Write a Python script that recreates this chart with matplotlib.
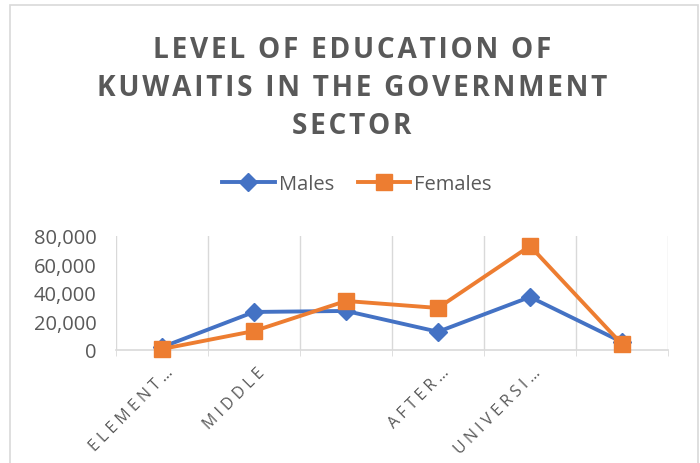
import matplotlib.pyplot as plt
from matplotlib.patches import Rectangle
from matplotlib.transforms import ScaledTranslation
import numpy as np

categories = ['ELEMENT…', 'MIDDLE', '', 'AFTER…', 'UNIVERSI…', '']
males = [2000, 26700, 27400, 12800, 37200, 5600]
females = [700, 13300, 34400, 29500, 73000, 4000]
yticks = [0, 20000, 40000, 60000, 80000]

title_lines = ['LEVEL OF EDUCATION OF', 'KUWAITIS IN THE GOVERNMENT', 'SECTOR']

GRAY = '#595959'
BLUE = '#4472C4'
ORANGE = '#ED7D31'
FONT = ['Open Sans', 'DejaVu Sans']


def spaced(s, sep='\u2009'):
    return sep.join(s)


fig = plt.figure(figsize=(7, 4.64), dpi=100)
fig.patches.append(Rectangle((10 / 700, -0.01), 688 / 700, 1 - 6 / 464 + 0.01,
                             transform=fig.transFigure, fill=False,
                             edgecolor='#D9D9D9', linewidth=1.2))

ax = fig.add_axes([116 / 700, 1 - 351 / 464, 552 / 700, 114 / 464])
x = np.arange(len(categories))

ax.plot(x, males, color=BLUE, linewidth=2.8, marker='D', markersize=9,
        label='Males', zorder=3, clip_on=False)
ax.plot(x, females, color=ORANGE, linewidth=2.8, marker='s', markersize=11,
        label='Females', zorder=4, clip_on=False)

ax.set_xlim(-0.5, len(categories) - 0.5)
ax.set_ylim(0, 80000)
ax.set_yticks(yticks)
ax.set_yticklabels([f'{v:,}' for v in yticks], fontsize=14.5, color=GRAY, family=FONT)
ax.tick_params(axis='y', length=0, pad=14)

ax.set_xticks(x)
ax.set_xticklabels([spaced(c, ' ') for c in categories], rotation=45, ha='right',
                   rotation_mode='anchor', fontsize=11.5, color=GRAY, family=FONT)
ax.tick_params(axis='x', which='major', length=0, pad=10)
shift = ScaledTranslation(3 / 100, 0, fig.dpi_scale_trans)
for lbl in ax.get_xticklabels():
    lbl.set_transform(lbl.get_transform() + shift)
ax.set_xticks(np.arange(-0.5, len(categories)), minor=True)
ax.tick_params(axis='x', which='minor', length=4, color='#D9D9D9')
ax.grid(axis='x', which='minor', color='#D9D9D9', linewidth=1)

for side in ['top', 'right', 'left']:
    ax.spines[side].set_visible(False)
ax.spines['bottom'].set_color('#D9D9D9')
ax.spines['bottom'].set_linewidth(1.2)

for i, line in enumerate(title_lines):
    fig.text(352 / 700, 1 - (50 + i * 38) / 464, spaced(line, '\u200a'), ha='center', va='center',
             fontsize=20.2, fontweight='bold', color=GRAY, family=FONT)

ax.legend(loc='center', bbox_to_anchor=(357 / 700, 1 - 185 / 464),
          bbox_transform=fig.transFigure, ncol=2, frameon=False,
          prop={'family': FONT, 'size': 14.5}, labelcolor=GRAY,
          handlelength=2.6, columnspacing=1.2, handletextpad=0.2)

fig.savefig('out.png', dpi=100)
